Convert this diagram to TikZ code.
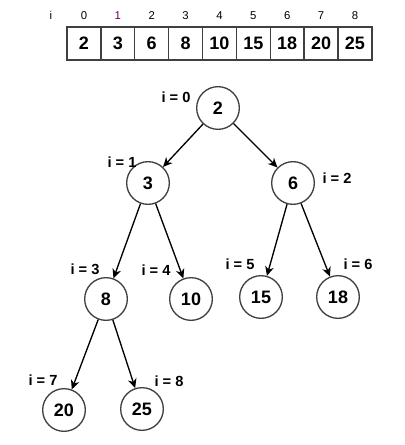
\documentclass[tikz,border=0pt]{standalone}
\usepackage{fontspec}
\setmainfont{Liberation Sans}
\usetikzlibrary{arrows.meta,positioning}
\definecolor{edgegray}{HTML}{404040}
\definecolor{idxpurple}{HTML}{660066}
\tikzset{
  cell/.style={
    draw=edgegray,
    line width=1pt,
    minimum width=25.4pt,
    minimum height=24.75pt,
    inner sep=0pt,
    font=\fontsize{13.5}{15}\selectfont\bfseries
  },
  idx/.style={
    inner sep=0pt,
    font=\fontsize{8.5}{10}\selectfont
  },
  heap node/.style={
    circle,
    draw=edgegray,
    line width=1pt,
    minimum size=32pt,
    inner sep=0pt,
    font=\fontsize{13.5}{15}\selectfont\bfseries
  },
  ilabel/.style={
    inner sep=0pt,
    font=\fontsize{11}{13}\selectfont\bfseries
  }
}
\begin{document}
\begin{tikzpicture}[%
            ->,
            >={Stealth[length=7pt,width=6.5pt,inset=2.2pt]},
            line width=1pt,
            on grid,
            node distance=25.4pt]
    \useasboundingbox (0,0) rectangle (303pt,-333.75pt);
    % array
    \node[cell] (c_0) at (63pt,-32.6pt) {2};
    \node[cell] (c_1) [right=of c_0] {3};
    \node[cell] (c_2) [right=of c_1] {6};
    \node[cell] (c_3) [right=of c_2] {8};
    \node[cell] (c_4) [right=of c_3] {10};
    \node[cell] (c_5) [right=of c_4] {15};
    \node[cell] (c_6) [right=of c_5] {18};
    \node[cell] (c_7) [right=of c_6] {20};
    \node[cell] (c_8) [right=of c_7] {25};
    \node[idx] (i_h) [above left=21pt and 24.75pt of c_0] {i};
    \node[idx] (i_0) [above=21pt of c_0] {0};
    \node[idx,text=idxpurple] (i_1) [above=21pt of c_1] {1};
    \node[idx] (i_2) [above=21pt of c_2] {2};
    \node[idx] (i_3) [above=21pt of c_3] {3};
    \node[idx] (i_4) [above=21pt of c_4] {4};
    \node[idx] (i_5) [above=21pt of c_5] {5};
    \node[idx] (i_6) [above=21pt of c_6] {6};
    \node[idx] (i_7) [above=21pt of c_7] {7};
    \node[idx] (i_8) [above=21pt of c_8] {8};
    % heap tree
    \node[heap node] (n_0) at (163.5pt,-81pt) {2};
    \node[heap node] (n_1) [below left=56.25pt and 52.5pt of n_0] {3};
    \node[heap node] (n_2) [below right=56.25pt and 56.25pt of n_0] {6};
    \node[heap node] (n_3) [below left=87pt and 31.5pt of n_1] {8};
    \node[heap node] (n_4) [below right=87pt and 32.25pt of n_1] {10};
    \node[heap node] (n_5) [below left=85.5pt and 24pt of n_2] {15};
    \node[heap node] (n_6) [below right=85.5pt and 33.75pt of n_2] {18};
    \node[heap node] (n_7) [below left=83.25pt and 31.5pt of n_3] {20};
    \node[heap node] (n_8) [below right=82.5pt and 27pt of n_3] {25};
    \node[ilabel] (l_0) [above left=8.25pt and 31.5pt of n_0] {i = 0};
    \node[ilabel] (l_1) [above left=15.75pt and 19.5pt of n_1] {i = 1};
    \node[ilabel] (l_2) [above right=3.75pt and 33pt of n_2] {i = 2};
    \node[ilabel] (l_3) [above left=22.5pt and 15.75pt of n_3] {i = 3};
    \node[ilabel] (l_4) [above left=21.75pt and 26.25pt of n_4] {i = 4};
    \node[ilabel] (l_5) [above left=24.75pt and 15.75pt of n_5] {i = 5};
    \node[ilabel] (l_6) [above right=24.75pt and 15pt of n_6] {i = 6};
    \node[ilabel] (l_7) [above left=22.5pt and 15.75pt of n_7] {i = 7};
    \node[ilabel] (l_8) [above right=21pt and 20.25pt of n_8] {i = 8};
    \path[->]
    (n_0) edge (n_1)
    (n_0) edge (n_2)
    (n_1) edge (n_3)
    (n_1) edge (n_4)
    (n_2) edge (n_5)
    (n_2) edge (n_6)
    (n_3) edge (n_7)
    (n_3) edge (n_8);
\end{tikzpicture}
\end{document}
